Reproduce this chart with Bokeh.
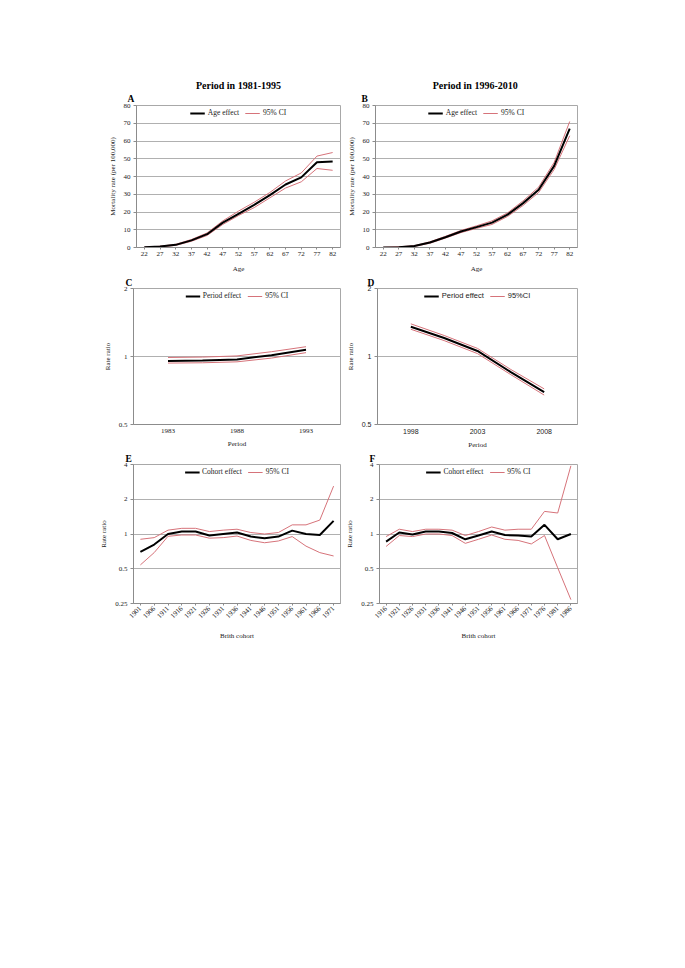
import math
from bokeh.plotting import figure
from bokeh.models import Range1d, FixedTicker, Legend, LegendItem, Title, Spacer
from bokeh.layouts import column, row
from bokeh.embed import file_html
from bokeh.resources import INLINE

# ---------------- data ----------------
ages = [22, 27, 32, 37, 42, 47, 52, 57, 62, 67, 72, 77, 82]

a_eff = [0.1, 0.5, 1.5, 4.0, 7.5, 14.0, 19.0, 24.0, 29.5, 35.5, 39.5, 48.0, 48.5]
a_hi = [0.2, 0.7, 1.8, 4.5, 8.2, 15.0, 20.5, 25.5, 31.0, 37.5, 42.0, 51.5, 53.5]
a_lo = [0.05, 0.3, 1.2, 3.5, 6.8, 13.0, 18.0, 22.5, 28.0, 33.5, 37.0, 44.5, 43.5]

b_eff = [0.0, 0.2, 0.8, 2.8, 5.8, 9.0, 11.5, 14.0, 18.5, 25.0, 32.5, 46.0, 67.0]
b_hi = [0.1, 0.4, 1.0, 3.2, 6.3, 9.6, 12.2, 15.0, 19.5, 26.3, 34.0, 48.0, 71.0]
b_lo = [0.0, 0.1, 0.6, 2.4, 5.3, 8.4, 10.8, 13.0, 17.5, 23.7, 31.0, 44.0, 63.0]

c_years = [1983, 1985.5, 1988, 1990.5, 1993]
c_ticks = [1983, 1988, 1993]
c_eff = [0.956, 0.959, 0.971, 1.013, 1.07]
c_hi = [0.99, 0.994, 1.006, 1.05, 1.105]
c_lo = [0.935, 0.938, 0.947, 0.984, 1.04]

d_years = [1998, 2000.5, 2003, 2005.5, 2008]
d_ticks = [1998, 2003, 2008]
d_eff = [1.355, 1.207, 1.058, 0.853, 0.695]
d_hi = [1.395, 1.239, 1.086, 0.876, 0.719]
d_lo = [1.32, 1.176, 1.030, 0.831, 0.675]

e_cohorts = [1901, 1906, 1911, 1916, 1921, 1926, 1931, 1936, 1941, 1946, 1951, 1956, 1961, 1966, 1971]
e_eff = [0.70, 0.81, 1.00, 1.05, 1.05, 0.97, 1.00, 1.03, 0.95, 0.92, 0.95, 1.07, 1.00, 0.98, 1.30]
e_hi = [0.90, 0.93, 1.08, 1.12, 1.12, 1.05, 1.08, 1.10, 1.03, 1.00, 1.03, 1.20, 1.20, 1.32, 2.60]
e_lo = [0.54, 0.69, 0.955, 0.98, 0.98, 0.92, 0.93, 0.96, 0.88, 0.84, 0.87, 0.95, 0.785, 0.69, 0.645]

f_cohorts = [1916, 1921, 1926, 1931, 1936, 1941, 1946, 1951, 1956, 1961, 1966, 1971, 1976, 1981, 1986]
f_eff = [0.86, 1.03, 0.99, 1.05, 1.05, 1.02, 0.90, 0.97, 1.05, 0.98, 0.97, 0.95, 1.20, 0.90, 1.00]
f_hi = [0.95, 1.10, 1.05, 1.10, 1.10, 1.08, 0.97, 1.05, 1.15, 1.08, 1.10, 1.10, 1.57, 1.52, 3.90]
f_lo = [0.78, 0.97, 0.95, 1.00, 1.00, 0.97, 0.83, 0.90, 0.98, 0.90, 0.88, 0.82, 0.97, 0.51, 0.27]

rate_ticks_cd = [0.5, 1, 2]
rate_ticks_ef = [0.25, 0.5, 1, 2, 4]

# ---------------- style ----------------
SERIF = "Liberation Serif"
SANS = "Liberation Sans"
RED = "#d6737a"
GRID = "#b0b0b0"
AXIS = "#8c8c8c"
TXT = "#1a1a1a"


def make_fig(w, h, bl, br, bt, bb, xr, yr, ylog=False):
    p = figure(width=w, height=h, x_range=xr, y_range=yr,
               y_axis_type="log" if ylog else "linear",
               output_backend="svg", toolbar_location=None,
               min_border_left=bl, min_border_right=br,
               min_border_top=bt, min_border_bottom=bb)
    p.outline_line_color = "#a8a8a8"
    p.outline_line_width = 1
    p.xgrid.visible = False
    p.ygrid.grid_line_color = GRID
    p.ygrid.grid_line_width = 1
    for ax in (p.xaxis[0], p.yaxis[0]):
        ax.axis_line_color = AXIS
        ax.major_tick_line_color = AXIS
        ax.minor_tick_line_color = AXIS
        ax.major_tick_in = 0
        ax.major_tick_out = 3
        ax.minor_tick_in = 0
        ax.minor_tick_out = 0
        ax.major_label_text_font = SERIF
        ax.major_label_text_font_size = "7px"
        ax.major_label_text_color = TXT
        ax.major_label_standoff = 3
        ax.axis_label_text_font = SERIF
        ax.axis_label_text_font_size = "7px"
        ax.axis_label_text_font_style = "normal"
        ax.axis_label_text_color = TXT
        ax.axis_label_standoff = 4
    p.xaxis.major_tick_out = 2
    p.xaxis.major_label_standoff = 2
    p.xaxis.axis_label_standoff = 6
    return p


def add_lines(p, x, eff, hi, lo, lab1, lab2, font=SERIF):
    r_hi = p.line(x, hi, line_color=RED, line_width=1)
    p.line(x, lo, line_color=RED, line_width=1)
    r_eff = p.line(x, eff, line_color="black", line_width=2)
    leg = Legend(items=[LegendItem(label=lab1, renderers=[r_eff]),
                        LegendItem(label=lab2, renderers=[r_hi])],
                 orientation="horizontal", location="top_center")
    leg.border_line_color = None
    leg.background_fill_alpha = 0
    leg.margin = 3
    leg.padding = 0
    leg.spacing = 6
    leg.glyph_width = 15
    leg.glyph_height = 8
    leg.label_height = 8
    leg.label_standoff = 3
    leg.label_text_font = font
    leg.label_text_font_size = "7.5px"
    leg.label_text_color = TXT
    p.add_layout(leg)


def letter(p, txt, offset, standoff):
    p.add_layout(Title(text=txt, align="left", offset=offset, standoff=standoff,
                       text_font=SERIF, text_font_size="9.5px", text_font_style="bold",
                       text_color="black"), "above")


def title(p, txt, offset):
    p.title.text = txt
    p.title.text_font = SERIF
    p.title.text_font_size = "10px"
    p.title.text_font_style = "bold"
    p.title.align = "center"
    p.title.offset = offset
    p.title.standoff = 0
    p.title.text_color = "black"


# ---------------- A ----------------
pA = make_fig(247, 200, 40, 3, 30, 26, Range1d(19.5, 84.5), Range1d(0, 80))
add_lines(pA, ages, a_eff, a_hi, a_lo, "Age effect", "95% CI")
pA.yaxis.ticker = FixedTicker(ticks=list(range(0, 81, 10)))
pA.xaxis.ticker = FixedTicker(ticks=ages)
pA.xaxis.axis_label = "Age"
pA.yaxis.axis_label = "Mortality rate (per 100,000)"
letter(pA, "A", -9, 3)
title(pA, "Period in 1981-1995", -5)

# ---------------- B ----------------
pB = make_fig(247, 200, 32, 13, 30, 26, Range1d(19.5, 84.5), Range1d(0, 80))
add_lines(pB, ages, b_eff, b_hi, b_lo, "Age effect", "95% CI")
pB.yaxis.ticker = FixedTicker(ticks=list(range(0, 81, 10)))
pB.xaxis.ticker = FixedTicker(ticks=ages)
pB.xaxis.axis_label = "Age"
pB.yaxis.axis_label = "Mortality rate (per 100,000)"
letter(pB, "B", -14, 3)
title(pB, "Period in  1996-2010", -9)

# ---------------- C ----------------
pC = make_fig(247, 176, 37, 3, 12, 23, Range1d(1980.5, 1995.5), Range1d(0.5, 2), ylog=True)
add_lines(pC, c_years, c_eff, c_hi, c_lo, "Period effect", "95% CI")
pC.yaxis.ticker = FixedTicker(ticks=rate_ticks_cd)
pC.yaxis.major_label_overrides = {0.5: "0.5", 1: "1", 2: "2"}
pC.xaxis.ticker = FixedTicker(ticks=c_ticks)
pC.xaxis.major_tick_out = 0
pC.xaxis.major_label_standoff = 4
pC.xaxis.axis_label_standoff = 4
pC.xaxis.axis_label = "Period"
pC.yaxis.axis_label = "Rate ratio"
letter(pC, "C", -8, 1)

# ---------------- D ----------------
pD = make_fig(247, 176, 30, 13, 12, 23, Range1d(1995.5, 2010.5), Range1d(0.5, 2), ylog=True)
add_lines(pD, d_years, d_eff, d_hi, d_lo, "Period effect", "95%CI", font=SANS)
pD.yaxis.ticker = FixedTicker(ticks=rate_ticks_cd)
pD.yaxis.major_label_overrides = {0.5: "0.5", 1: "1", 2: "2"}
pD.yaxis.major_label_text_font = SANS
pD.xaxis.major_label_text_font = SANS
pD.xaxis.ticker = FixedTicker(ticks=d_ticks)
pD.xaxis.major_tick_out = 0
pD.xaxis.major_label_standoff = 4
pD.xaxis.axis_label_standoff = 4
pD.xaxis.axis_label = "Period"
pD.yaxis.axis_label = "Rate ratio"
letter(pD, "D", -10, 1)

# ---------------- E ----------------
pE = make_fig(247, 199, 37, 3, 12, 45, Range1d(1898.5, 1973.5), Range1d(0.25, 4), ylog=True)
add_lines(pE, e_cohorts, e_eff, e_hi, e_lo, "Cohort effect", "95% CI")
pE.yaxis.ticker = FixedTicker(ticks=rate_ticks_ef)
pE.yaxis.major_label_overrides = {0.25: "0.25", 0.5: "0.5", 1: "1", 2: "2", 4: "4"}
pE.xaxis.ticker = FixedTicker(ticks=e_cohorts)
pE.xaxis.major_label_orientation = math.pi / 4
pE.xaxis.axis_label_standoff = 9
pE.xaxis.axis_label = "Brith cohort"
pE.yaxis.axis_label = "Rate ratio"
letter(pE, "E", -8, 1)

# ---------------- F ----------------
pF = make_fig(247, 199, 30, 13, 12, 47, Range1d(1913.5, 1988.5), Range1d(0.25, 4), ylog=True)
add_lines(pF, f_cohorts, f_eff, f_hi, f_lo, "Cohort effect", "95% CI")
pF.yaxis.ticker = FixedTicker(ticks=rate_ticks_ef)
pF.yaxis.major_label_overrides = {0.25: "0.25", 0.5: "0.5", 1: "1", 2: "2", 4: "4"}
pF.xaxis.ticker = FixedTicker(ticks=f_cohorts)
pF.xaxis.major_label_orientation = math.pi / 4
pF.xaxis.axis_label_standoff = 9
pF.xaxis.axis_label = "Brith cohort"
pF.yaxis.axis_label = "Rate ratio"
letter(pF, "F", -10, 1)

layout = column(
    Spacer(width=10, height=75),
    row(Spacer(width=96, height=10), pA, pB),
    row(Spacer(width=96, height=10), pC, pD),
    row(Spacer(width=96, height=10), pE, pF),
)

open("out.html", "w").write(file_html(layout, INLINE))
